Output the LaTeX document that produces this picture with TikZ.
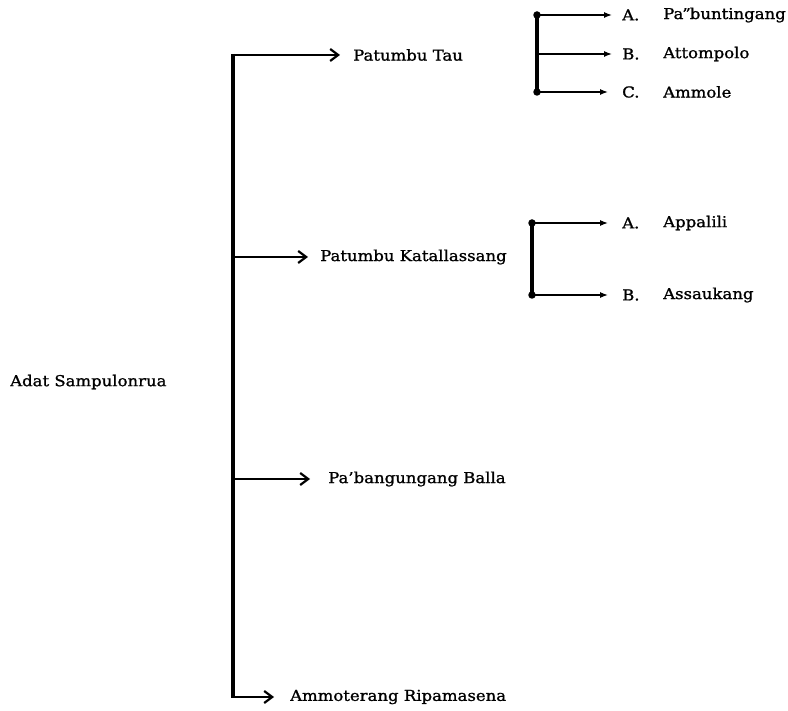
\documentclass[tikz,border=0pt]{standalone}
\usepackage{fontspec}
\setmainfont{DejaVu Serif}[FakeStretch=1.1, FakeBold=1.2]
\usetikzlibrary{arrows.meta, positioning}

\tikzset{
  lbl/.style={anchor=west, inner sep=0pt, font=\fontsize{15}{17}\selectfont},
  trunk/.style={line width=3.4pt},
  mainarrow/.style={line width=2pt, -{Straight Barb[length=8pt, width=12pt, line width=2.2pt]}},
  subarrow/.style={line width=1.3pt, -{Latex[length=8pt, width=6pt]}},
  knot/.style={circle, fill=black, inner sep=0pt, minimum size=7.5pt}
}

\begin{document}
\begin{tikzpicture}[x=1pt, y=-1pt]
  \useasboundingbox (0,0) rectangle (788,711);

  % root
  \node[lbl] (adat) at (10,382) {Adat Sampulonrua};

  % trunk
  \coordinate (t1) at (233,55);
  \coordinate (t2) at (233,257);
  \coordinate (t3) at (233,479);
  \coordinate (t4) at (233,697);
  \draw[trunk] ([yshift=1pt]t1) -- ([yshift=-1pt]t4);

  % main branches
  \node[lbl] (tau) at (353,55) {Patumbu Tau};
  \node[lbl] (kat) at (320,257) {Patumbu Katallassang};
  \node[lbl] (balla) at (328,479) {Pa’bangungang Balla};
  \node[lbl] (ammot) at (290,697) {Ammoterang Ripamasena};
  \draw[mainarrow] ([xshift=-1.7pt]t1) -- ([xshift=-13pt]tau.west);
  \draw[mainarrow] (t2) -- ([xshift=-12pt]kat.west);
  \draw[mainarrow] (t3) -- ([xshift=-18pt]balla.west);
  \draw[mainarrow] ([xshift=-1.7pt]t4) -- ([xshift=-16pt]ammot.west);

  % sub branches of Patumbu Tau
  \node[knot] (ta) at (537,15) {};
  \node[knot] (tc) at (537,92) {};
  \coordinate (tb) at (537,54);
  \draw[trunk] (ta.center) -- (tc.center);
  \node[lbl] (la) at (622,15) {A.};
  \node[lbl] (lb) at (622,54) {B.};
  \node[lbl] (lc) at (622,92) {C.};
  \node[lbl] (na) at (663,15) {Pa\kern-1pt”\kern-1pt buntingang};
  \node[lbl] (nb) at (663,54) {Attompolo};
  \node[lbl] (nc) at (663,92) {Ammole};
  \draw[subarrow] (ta.center) -- ([xshift=-10pt]la.west);
  \draw[subarrow] (tb) -- ([xshift=-10pt]lb.west);
  \draw[subarrow] (tc.center) -- ([xshift=-14pt]lc.west);

  % sub branches of Patumbu Katallassang
  \node[knot] (ka) at (532,223) {};
  \node[knot] (kb) at (532,295) {};
  \draw[trunk] (ka.center) -- (kb.center);
  \node[lbl] (lka) at (622,223) {A.};
  \node[lbl] (lkb) at (622,295) {B.};
  \node[lbl] (nka) at (663,223) {Appalili};
  \node[lbl] (nkb) at (663,295) {Assaukang};
  \draw[subarrow] (ka.center) -- ([xshift=-14pt]lka.west);
  \draw[subarrow] (kb.center) -- ([xshift=-14pt]lkb.west);
\end{tikzpicture}
\end{document}
